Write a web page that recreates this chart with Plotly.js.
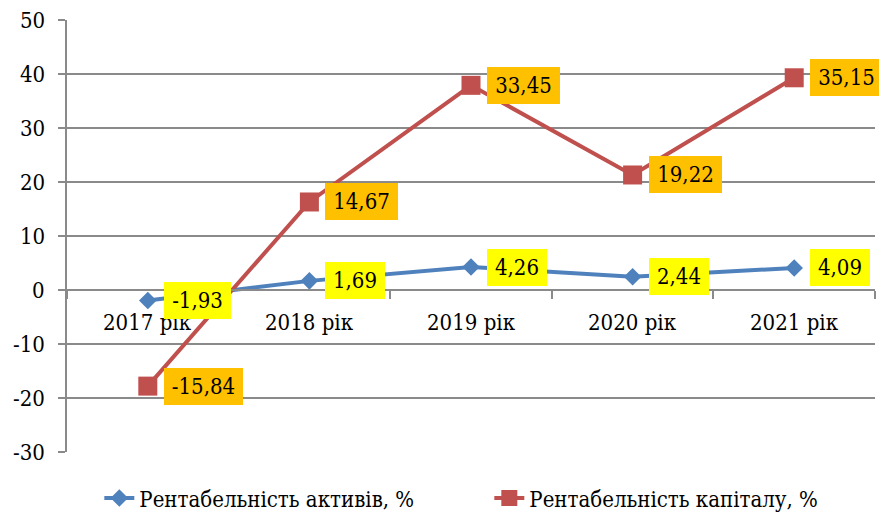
<!DOCTYPE html>
<html>
<head>
<meta charset="utf-8">
<script src="https://cdn.plot.ly/plotly-3.0.1.min.js"></script>
<style>html,body{margin:0;padding:0;background:#fff;}#chart{width:879px;height:515px;}</style>
</head>
<body>
<div id="chart"></div>
<script>
var categories = ["2017 рік", "2018 рік", "2019 рік", "2020 рік", "2021 рік"];
var assetsName = "Рентабельність активів, %";
var capitalName = "Рентабельність капіталу, %";
var assetsValues = [-1.93, 1.69, 4.26, 2.44, 4.09];
var capitalValues = [-17.8, 16.3, 37.9, 21.3, 39.3];
var assetsLabels = ["-1,93", "1,69", "4,26", "2,44", "4,09"];
var capitalLabels = ["-15,84", "14,67", "33,45", "19,22", "35,15"];
var yTicks = [-30, -20, -10, 0, 10, 20, 30, 40, 50];

var FONT = "DejaVu Serif Condensed, DejaVu Serif";
var FS = 22;
var GRID = "#8a8a8a";

var ctx = document.createElement("canvas").getContext("2d");
ctx.font = FS + "px 'DejaVu Serif Condensed', 'DejaVu Serif'";
function textW(s) { return Math.round(ctx.measureText(s).width + 16); }

var traces = [
  {x: categories, y: assetsValues, name: assetsName, type: "scatter", mode: "lines+markers",
   line: {color: "#4F81BD", width: 4}, marker: {symbol: "diamond", size: 13.5, color: "#4F81BD"}},
  {x: categories, y: capitalValues, name: capitalName, type: "scatter", mode: "lines+markers",
   line: {color: "#C0504D", width: 4}, marker: {symbol: "square", size: 19, color: "#C0504D"}}
];

var txtFont = {family: FONT, size: FS, color: "#000"};
var annotations = [];
// y-axis tick labels
yTicks.forEach(function (v) {
  annotations.push({x: 0, xref: "paper", y: v, yref: "y", text: String(v), showarrow: false,
    xanchor: "right", yanchor: "middle", xshift: -20, font: txtFont});
});
// category labels under the zero line
categories.forEach(function (c) {
  annotations.push({x: c, xref: "x", y: 0, yref: "y", text: c, showarrow: false,
    xanchor: "center", yanchor: "middle", yshift: -32, font: txtFont});
});
function addLabels(vals, labels, bg) {
  for (var i = 0; i < vals.length; i++) {
    annotations.push({x: categories[i], y: vals[i], xref: "x", yref: "y", text: labels[i],
      showarrow: false, xanchor: "left", yanchor: "middle", xshift: 16,
      width: textW(labels[i]), height: 37, bgcolor: bg, borderpad: 0, borderwidth: 0,
      font: txtFont});
  }
}
addLabels(assetsValues, assetsLabels, "#FFFF00");
addLabels(capitalValues, capitalLabels, "#FFC000");

var layout = {
  width: 879, height: 515,
  margin: {l: 67, r: 4, t: 20, b: 63.3, autoexpand: false},
  paper_bgcolor: "#fff", plot_bgcolor: "#fff",
  font: txtFont,
  showlegend: true,
  legend: {orientation: "h", x: 0.040, xanchor: "left", y: -0.107, yanchor: "middle",
    font: txtFont, entrywidth: 345, entrywidthmode: "pixels",
    bgcolor: "rgba(0,0,0,0)"},
  xaxis: {type: "category", range: [-0.5, 4.5], anchor: "free", position: 0.375,
    showline: true, linecolor: GRID, linewidth: 2, showgrid: false, zeroline: false,
    ticks: "outside", tickson: "boundaries", ticklen: 8, tickcolor: GRID, tickwidth: 2,
    showticklabels: false, fixedrange: true},
  yaxis: {range: [-30, 50], tickvals: yTicks,
    showline: true, linecolor: GRID, linewidth: 2, showgrid: true, gridcolor: GRID, gridwidth: 2,
    zeroline: false, ticks: "outside", ticklen: 7, tickcolor: GRID, tickwidth: 2,
    showticklabels: false, fixedrange: true},
  annotations: annotations
};

Plotly.newPlot("chart", traces, layout, {displayModeBar: false, staticPlot: true});
</script>
</body>
</html>
